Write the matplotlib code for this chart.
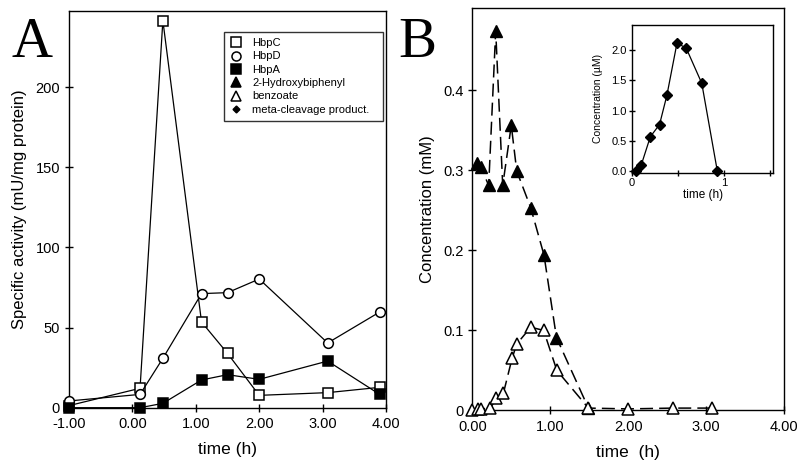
import matplotlib
matplotlib.use("Agg")
import matplotlib.pyplot as plt
from matplotlib.lines import Line2D

plt.rcParams['font.family'] = ['Liberation Sans', 'DejaVu Sans']

# ---------------- Panel A data ----------------
time_a = [-1.0, 0.12, 0.48, 1.09, 1.5, 2.0, 3.08, 3.9]
hbpC = [1.3, 12.1, 241.6, 53.5, 33.9, 7.7, 9.4, 12.7]
hbpD = [4.2, 8.3, 30.8, 71.2, 71.8, 80.3, 40.4, 59.7]
hbpA = [0.0, 0.0, 2.7, 17.3, 20.6, 17.7, 29.1, 8.3]
xticks_a = [-1, 0, 1, 2, 3, 4]
xticklabels_a = ["-1.00", "0.00", "1.00", "2.00", "3.00", "4.00"]
yticks_a = [0, 50, 100, 150, 200]
yticklabels_a = ["0", "50", "100", "150", "200"]

# ---------------- Panel B data ----------------
time_hbp = [0.06, 0.11, 0.21, 0.30, 0.39, 0.50, 0.57, 0.75, 0.92, 1.08, 1.49]
hydroxybiphenyl = [0.309, 0.304, 0.281, 0.474, 0.281, 0.356, 0.299, 0.253, 0.194, 0.091, 0.003]
time_benz = [0.0, 0.07, 0.115, 0.23, 0.31, 0.40, 0.51, 0.57, 0.75, 0.915, 1.085, 1.49, 2.0, 2.58, 3.07]
benzoate = [0.0, 0.002, 0.002, 0.003, 0.015, 0.022, 0.065, 0.083, 0.104, 0.100, 0.050, 0.003, 0.002, 0.003, 0.003]
xticks_b = [0, 1, 2, 3, 4]
xticklabels_b = ["0.00", "1.00", "2.00", "3.00", "4.00"]
yticks_b = [0, 0.1, 0.2, 0.3, 0.4]
yticklabels_b = ["0", "0.1", "0.2", "0.3", "0.4"]

# ---------------- Inset data ----------------
time_inset = [0.04, 0.10, 0.20, 0.30, 0.38, 0.49, 0.59, 0.76, 0.93]
meta_cleavage = [0.0, 0.10, 0.57, 0.77, 1.25, 2.11, 2.03, 1.45, 0.0]
xticks_in = [0, 0.5, 1, 1.5]
xticklabels_in = ["0", "", "1", ""]
yticks_in = [0, 0.5, 1.0, 1.5, 2.0]
yticklabels_in = ["0.0", "0.5", "1.0", "1.5", "2.0"]

legend_labels = ["HbpC", "HbpD", "HbpA", "2-Hydroxybiphenyl", "benzoate", "meta-cleavage product."]

fig = plt.figure(figsize=(8, 4.67), dpi=100)

def style_axes(ax, fs=10, tl=6):
    for s in ax.spines.values():
        s.set_linewidth(1.0)
        s.set_color("black")
    ax.tick_params(direction="inout", length=tl, width=1.0, labelsize=fs, colors="black")

# ---------------- Panel A ----------------
axA = fig.add_axes([0.0863, 0.127, 0.3962, 0.8495])
lw = 0.9
axA.plot(time_a, hbpC, color="black", lw=lw, marker="s", ms=6.5, mfc="white", mec="black", mew=1.1, clip_on=False, zorder=3)
axA.plot(time_a, hbpD, color="black", lw=lw, marker="o", ms=7, mfc="white", mec="black", mew=1.1, clip_on=False, zorder=3)
axA.plot(time_a, hbpA, color="black", lw=lw, marker="s", ms=6.5, mfc="black", mec="black", mew=1.1, clip_on=False, zorder=4)
axA.set_xlim(-1, 4)
axA.set_ylim(0, 247.6)
axA.set_xticks(xticks_a)
axA.set_xticklabels(xticklabels_a)
axA.set_yticks(yticks_a)
axA.set_yticklabels(yticklabels_a)
style_axes(axA, fs=10.5)
axA.set_xlabel("time (h)", fontsize=12.5, labelpad=8)
axA.set_ylabel("Specific activity (mU/mg protein)", fontsize=12, labelpad=6)

handles = [
    Line2D([], [], ls="none", marker="s", ms=6.5, mfc="white", mec="black", mew=1.1),
    Line2D([], [], ls="none", marker="o", ms=6.5, mfc="white", mec="black", mew=1.1),
    Line2D([], [], ls="none", marker="s", ms=6.5, mfc="black", mec="black", mew=1.1),
    Line2D([], [], ls="none", marker="^", ms=6.5, mfc="black", mec="black", mew=1.1),
    Line2D([], [], ls="none", marker="^", ms=7, mfc="white", mec="black", mew=1.1),
    Line2D([], [], ls="none", marker="D", ms=3.5, mfc="black", mec="black", mew=1.0),
]
leg = axA.legend(handles, legend_labels, loc="upper left", bbox_to_anchor=(0.489, 0.705, 0.5016, 0.242),
                 mode="expand", fontsize=8, frameon=True, fancybox=False, edgecolor="black",
                 handlelength=1.0, handletextpad=1.0, labelspacing=0.3, borderpad=0.55, borderaxespad=0)
leg.get_frame().set_linewidth(1.0)

# ---------------- Panel B ----------------
axB = fig.add_axes([0.5904, 0.121, 0.3896, 0.8618])
dash = (0, (8.5, 4))
axB.plot(time_hbp, hydroxybiphenyl, color="black", lw=1.1, ls=dash, marker="^", ms=8, mfc="black", mec="black", mew=1.0, clip_on=False, zorder=3)
axB.plot(time_benz, benzoate, color="black", lw=1.1, ls=dash, marker="^", ms=8, mfc="white", mec="black", mew=1.1, clip_on=False, zorder=4)
axB.set_xlim(0, 4)
axB.set_ylim(0, 0.5025)
axB.set_xticks(xticks_b)
axB.set_xticklabels(xticklabels_b)
axB.set_yticks(yticks_b)
axB.set_yticklabels(yticklabels_b)
style_axes(axB, fs=10.5)
axB.set_xlabel("time  (h)", fontsize=12.5, labelpad=8)
axB.set_ylabel("Concentration (mM)", fontsize=12, labelpad=6)

# ---------------- Inset ----------------
axI = fig.add_axes([0.79, 0.6306, 0.1767, 0.316])
axI.plot(time_inset, meta_cleavage, color="black", lw=0.9, marker="D", ms=5, mfc="black", mec="black", clip_on=False, zorder=3)
axI.set_xlim(0, 1.54)
axI.set_ylim(-0.02, 2.41)
axI.set_xticks(xticks_in)
axI.set_xticklabels(xticklabels_in)
axI.set_yticks(yticks_in)
axI.set_yticklabels(yticklabels_in)
style_axes(axI, fs=8, tl=5)
axI.tick_params(pad=1.5)
axI.set_xlabel("time (h)", fontsize=8.5, labelpad=1)
axI.set_ylabel("Concentration (\u00b5M)", fontsize=7.5, labelpad=6)

# Panel letters
fig.text(0.015, 0.878, "A", family="Liberation Serif", fontsize=41, ha="left", va="baseline")
fig.text(0.498, 0.878, "B", family="Liberation Serif", fontsize=41, ha="left", va="baseline")

fig.savefig("out.png", dpi=100)
